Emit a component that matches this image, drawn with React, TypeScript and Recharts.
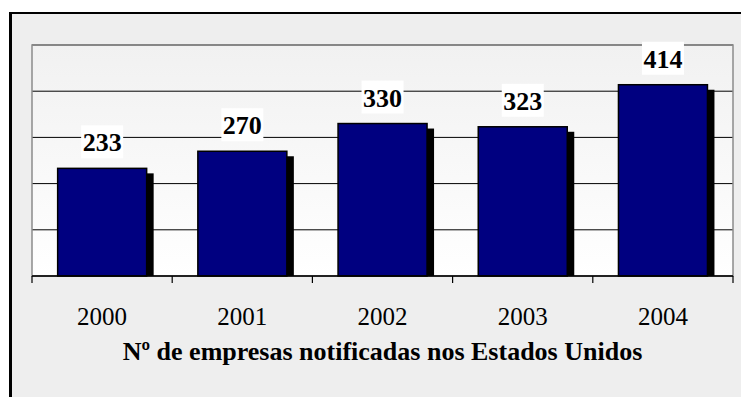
import { Bar, BarChart, CartesianGrid, Label, LabelList, ReferenceArea, XAxis, YAxis } from "recharts";

const years = ["2000", "2001", "2002", "2003", "2004"];
const companies = [233, 270, 330, 323, 414];
const yTicks = [100, 200, 300, 400];
const axisTitle = "Nº de empresas notificadas nos Estados Unidos";

const data = years.map((year, i) => ({ year, companies: companies[i] }));

const serif = "'Liberation Serif', 'DejaVu Serif', serif";

const ShadowBar = (props: any) => {
  const { x, y, width, height } = props;
  return (
    <g>
      <rect x={x + 7} y={y + 5} width={width} height={Math.max(height - 5, 0)} fill="#000" />
      <rect x={x} y={y} width={width} height={height} fill="#000080" stroke="#000" strokeWidth={1.5} />
    </g>
  );
};

const ValueLabel = (props: any) => {
  const { x, y, width, value } = props;
  const cx = x + width / 2;
  const cy = y - 26.5;
  return (
    <g>
      <rect x={cx - 21} y={cy - 16.5} width={42} height={33} fill="#fff" />
      <text
        x={cx}
        y={cy + 9.5}
        textAnchor="middle"
        style={{ fontFamily: serif, fontWeight: "bold", fontSize: 26 }}
        fill="#000"
      >
        {value}
      </text>
    </g>
  );
};

const YearTick = (props: any) => {
  const { x, y, payload, index, visibleTicksCount, width } = props;
  const half = payload.offset ?? width / visibleTicksCount / 2;
  const top = y - 7;
  return (
    <g>
      <line x1={x - half} x2={x - half} y1={top} y2={top + 7} stroke="#000" strokeWidth={1.2} />
      {index === visibleTicksCount - 1 && (
        <line x1={x + half} x2={x + half} y1={top} y2={top + 7} stroke="#000" strokeWidth={1.2} />
      )}
      <text x={x} y={top + 49} textAnchor="middle" style={{ fontFamily: serif, fontSize: 25 }} fill="#000">
        {payload.value}
      </text>
    </g>
  );
};

export default function App() {
  return (
    <div
      style={{
        position: "relative",
        width: 749,
        height: 405,
        margin: -8,
        overflow: "hidden",
        background: "#fff",
        fontFamily: serif,
      }}
    >
      <div
        style={{
          position: "absolute",
          left: 9,
          top: 12,
          width: 800,
          height: 450,
          borderTop: "2px solid #000",
          borderLeft: "3px solid #000",
          background: "#eeeeee",
        }}
      />
      <div style={{ position: "absolute", left: 0, top: 0 }}>
        <BarChart
          width={749}
          height={405}
          data={data}
          margin={{ top: 45, left: 32, right: 16, bottom: 0 }}
          barCategoryGap="18.3%"
          style={{ fontFamily: serif }}
        >
          <defs>
            <linearGradient id="plotBg" x1="0" y1="0" x2="0" y2="1">
              <stop offset="0%" stopColor="#f1f1f1" />
              <stop offset="100%" stopColor="#ffffff" />
            </linearGradient>
          </defs>
          <CartesianGrid vertical={false} stroke="#000" strokeWidth={1} fill="url(#plotBg)" fillOpacity={1} />
          <ReferenceArea y1={0} y2={500} fill="none" stroke="#8c8c8c" strokeWidth={1.5} ifOverflow="visible" />
          <XAxis
            dataKey="year"
            height={129}
            tickSize={7}
            tickMargin={0}
            tickLine={false}
            axisLine={{ stroke: "#000", strokeWidth: 1.5 }}
            tick={<YearTick />}
            interval={0}
          >
            <Label
              value={axisTitle}
              position="insideBottom"
              offset={45}
              style={{ fontFamily: serif, fontWeight: "bold", fontSize: 26, fill: "#000" }}
            />
          </XAxis>
          <YAxis hide domain={[0, 500]} ticks={yTicks} />
          <Bar dataKey="companies" shape={<ShadowBar />} isAnimationActive={false}>
            <LabelList dataKey="companies" content={<ValueLabel />} />
          </Bar>
        </BarChart>
      </div>
    </div>
  );
}
